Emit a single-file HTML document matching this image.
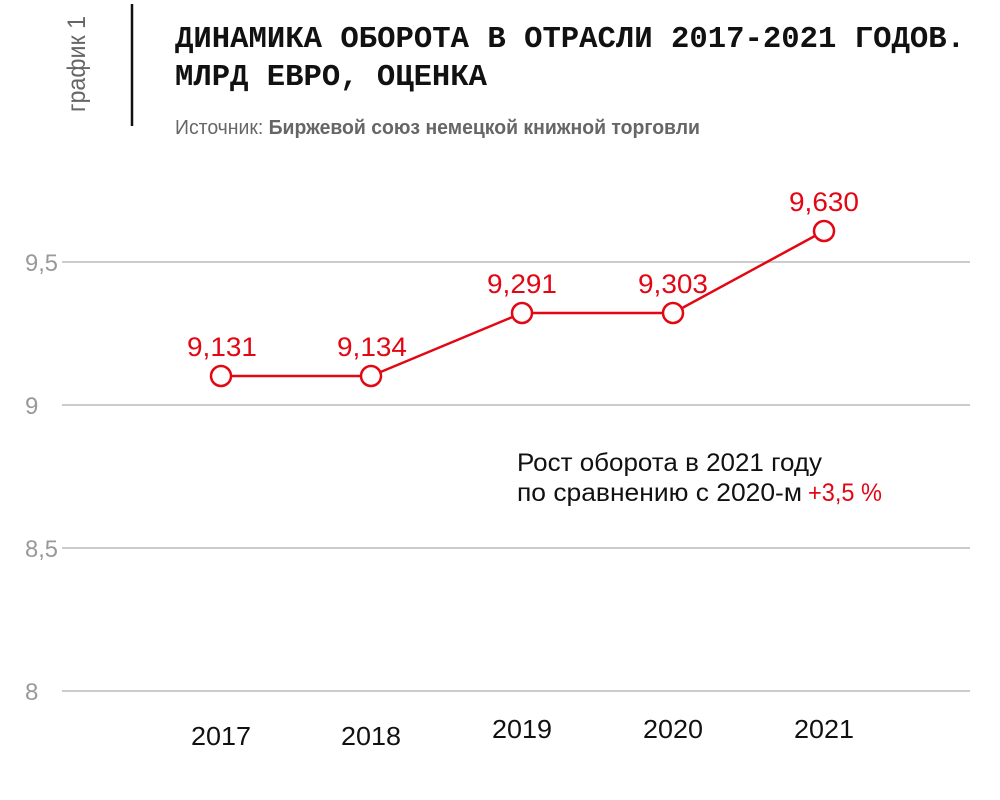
<!DOCTYPE html>
<html><head><meta charset="utf-8"><style>
html,body{margin:0;padding:0;background:#fff;}
svg{display:block;}
</style></head><body>
<svg width="1000" height="800" xmlns="http://www.w3.org/2000/svg" font-family="'Liberation Sans Narrow','Liberation Sans',sans-serif">
<rect width="1000" height="800" fill="#fff"/>
<text transform="translate(85,112) rotate(-90)" font-size="25" fill="#666" textLength="96" lengthAdjust="spacingAndGlyphs">график 1</text>
<line x1="132" y1="4" x2="132" y2="126" stroke="#111" stroke-width="2.5"/>
<g font-family="'Liberation Mono',monospace" font-weight="bold" font-size="31" fill="#111">
<text x="175" y="47" textLength="790" lengthAdjust="spacingAndGlyphs">ДИНАМИКА ОБОРОТА В ОТРАСЛИ 2017-2021 ГОДОВ.</text>
<text x="175" y="85" textLength="312" lengthAdjust="spacingAndGlyphs">МЛРД ЕВРО, ОЦЕНКА</text>
</g>
<text x="175" y="134" font-size="20" fill="#666" textLength="525" lengthAdjust="spacingAndGlyphs">Источник: <tspan font-weight="bold">Биржевой союз немецкой книжной торговли</tspan></text>
<g stroke="#bbb" stroke-width="1.5">
<line x1="62" y1="262" x2="970" y2="262"/>
<line x1="62" y1="405" x2="970" y2="405"/>
<line x1="62" y1="548" x2="970" y2="548"/>
<line x1="62" y1="691" x2="970" y2="691"/>
</g>
<g font-size="24" fill="#999">
<text x="25" y="271" textLength="33" lengthAdjust="spacingAndGlyphs">9,5</text>
<text x="25" y="414">9</text>
<text x="25" y="557" textLength="33" lengthAdjust="spacingAndGlyphs">8,5</text>
<text x="25" y="700">8</text>
</g>
<polyline points="221,376 371,376 522,313 673,313 824,231" fill="none" stroke="#e30613" stroke-width="2.5"/>
<g fill="#fff" stroke="#e30613" stroke-width="2.5">
<circle cx="221" cy="376" r="10"/><circle cx="371" cy="376" r="10"/><circle cx="522" cy="313" r="10"/><circle cx="673" cy="313" r="10"/><circle cx="824" cy="231" r="10"/>
</g>
<g font-size="27" fill="#e30613" text-anchor="middle">
<text x="222" y="356" textLength="70" lengthAdjust="spacingAndGlyphs">9,131</text>
<text x="372" y="356" textLength="70" lengthAdjust="spacingAndGlyphs">9,134</text>
<text x="522" y="293" textLength="70" lengthAdjust="spacingAndGlyphs">9,291</text>
<text x="673" y="293" textLength="70" lengthAdjust="spacingAndGlyphs">9,303</text>
<text x="824" y="211" textLength="70" lengthAdjust="spacingAndGlyphs">9,630</text>
</g>
<g font-size="26" fill="#111" text-anchor="middle">
<text x="221" y="745" textLength="60" lengthAdjust="spacingAndGlyphs">2017</text>
<text x="371" y="745" textLength="60" lengthAdjust="spacingAndGlyphs">2018</text>
<text x="522" y="738" textLength="60" lengthAdjust="spacingAndGlyphs">2019</text>
<text x="673" y="738" textLength="60" lengthAdjust="spacingAndGlyphs">2020</text>
<text x="824" y="738" textLength="60" lengthAdjust="spacingAndGlyphs">2021</text>
</g>
<g font-size="25" fill="#111">
<text x="517" y="471" textLength="305" lengthAdjust="spacingAndGlyphs">Рост оборота в 2021 году</text>
<text x="517" y="501" textLength="285" lengthAdjust="spacingAndGlyphs">по сравнению с 2020-м</text>
<text x="808" y="501" fill="#e30613" textLength="74" lengthAdjust="spacingAndGlyphs">+3,5 %</text>
</g>
</svg>
</body></html>
